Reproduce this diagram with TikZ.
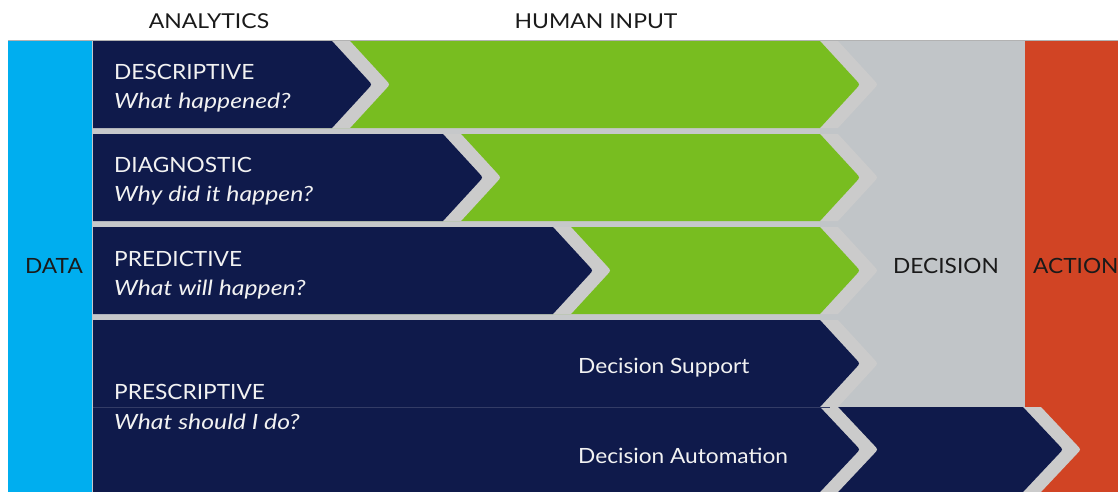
\documentclass[tikz,border=0pt]{standalone}
\usepackage{fontspec}
\setmainfont{Lato}
\newfontfamily\labfont[FakeStretch=1.08]{Lato}
\newfontfamily\qufont[FakeStretch=1.18]{Lato}
\newfontfamily\headfont[FakeStretch=1.12]{Lato}
\definecolor{navy}{HTML}{0F1A4B}
\definecolor{leaf}{HTML}{78BD20}
\definecolor{sky}{HTML}{00AEEF}
\definecolor{brick}{HTML}{D14424}
\definecolor{decgray}{HTML}{C1C5C8}
\definecolor{bandgray}{HTML}{CBCBCB}
\definecolor{gapgray}{HTML}{C6C8CA}
\definecolor{ink}{HTML}{1A1A1A}
\definecolor{paper}{HTML}{F2F2F2}
\newcommand\chevfill[6]{%
  \pgfmathsetmacro\cym{(#4+#5)/2}%
  \pgfmathsetmacro\cyh{(#5-#4)/2}%
  \fill[#1] ({#2+#6},#4) -- ({#3-40+#6},#4) -- ({#3-4+#6},{\cym-0.1*\cyh})
    .. controls ({#3+#6},\cym) .. ({#3-4+#6},{\cym+0.1*\cyh})
    -- ({#3-40+#6},#5) -- ({#2+#6},#5) -- cycle;}
\newcommand\chev[5]{\chevfill{bandgray}{#2}{#3}{#4}{#5}{18}\chevfill{#1}{#2}{#3}{#4}{#5}{0}}
\tikzset{
  lab/.style={font=\labfont\fontsize{21}{24}\selectfont, text=paper, inner sep=0, anchor=base west},
  qu/.style={font=\qufont\fontsize{21}{24}\selectfont\itshape, text=paper, inner sep=0, anchor=base west},
  dark/.style={font=\labfont\fontsize{21}{24}\selectfont, text=ink, inner sep=0},
  head/.style={font=\headfont\fontsize{20.5}{23}\selectfont, text=ink, inner sep=0, anchor=base}
}
\begin{document}
\begin{tikzpicture}[x=1pt,y=-1pt]
\useasboundingbox (0,0) rectangle (1118,492);
% columns
\fill[gapgray] (8,41) rectangle (820,492);
\fill[decgray] (820,41) rectangle (1025,407);
\fill[brick] (1025,41) rectangle (1118,492);
\fill[sky] (8,41) rectangle (92,492);
% row 1
\chev{leaf}{300}{860}{41}{128}
\chev{navy}{93}{372}{41}{128}
% row 2
\chev{leaf}{300}{860}{134}{221}
\chev{navy}{93}{483}{134}{221}
% row 3
\chev{leaf}{300}{860}{227}{314}
\chev{navy}{93}{593}{227}{314}
% row 4
\chev{navy}{93}{860}{320}{407}
% row 5
\chev{navy}{800}{1063}{407}{492}
\chev{navy}{93}{860}{407}{492}
\draw[line width=1pt, color=navy!85!white] (93,407.5) -- (830,407.5);
\draw[line width=1pt, color=gray!60] (8,41) -- (1118,41);
% labels
\node[head] (analytics) at (209,29) {ANALYTICS};
\node[head] (human) at (596,29) {HUMAN INPUT};
\node[lab] (desc) at (114,80) {DESCRIPTIVE};
\node[qu] (descq) at (114,109) {What happened?};
\node[lab] (diag) at (114,172) {DIAGNOSTIC};
\node[qu] (diagq) at (114,201) {Why did it happen?};
\node[lab] (pred) at (114,266) {PREDICTIVE};
\node[qu] (predq) at (114,295) {What will happen?};
\node[lab] (presc) at (114,399) {PRESCRIPTIVE};
\node[qu] (prescq) at (114,429) {What should I do?};
\node[lab] (support) at (578,373) {Decision Support};
\node[lab] (auto) at (578,463) {Decision Automation};
\node[dark, anchor=base] (data) at (54,273) {DATA};
\node[dark, anchor=base west] (decision) at (893,273) {DECISION};
\node[dark, anchor=base west] (action) at (1033,273) {ACTION};
\end{tikzpicture}
\end{document}
